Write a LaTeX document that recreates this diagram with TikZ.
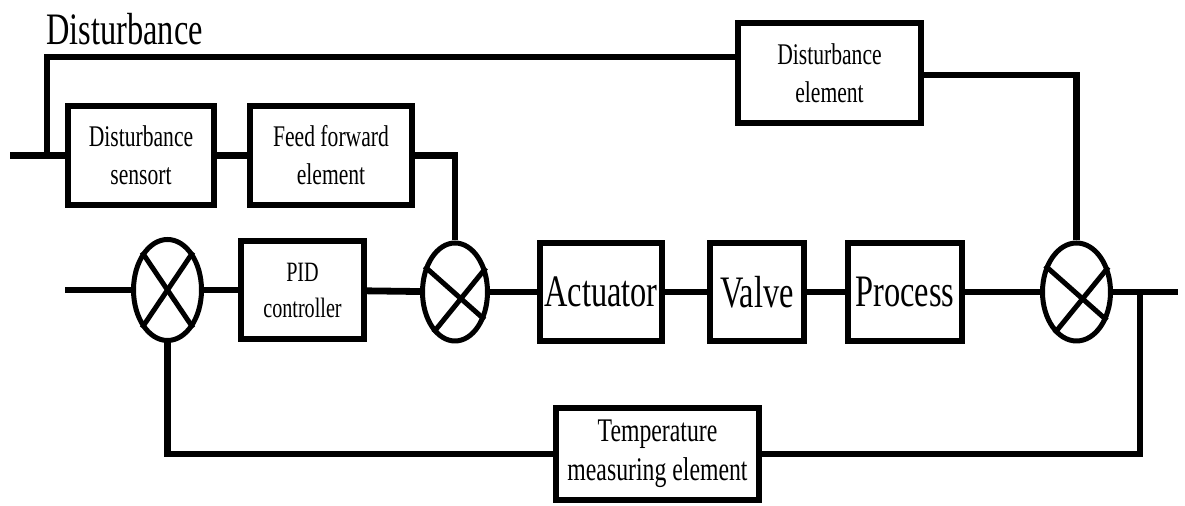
\documentclass[tikz,border=0pt]{standalone}
\usepackage{fontspec}
\setmainfont{Liberation Serif}[FakeStretch=0.72]
\usetikzlibrary{shapes.geometric}

\def\px{0.5pt}  % one unit of the grid
\begin{document}
\begin{tikzpicture}[
  x=\px, y=-\px,
  blk/.style={draw=black, line width=3pt, rectangle, fill=white,
              inner sep=0pt, align=center, anchor=center},
  small/.style={blk, font=\fontsize{15}{19}\selectfont},
  big/.style={blk, font=\fontsize{22.5}{26}\selectfont},
  sum/.style={draw=black, line width=2.5pt, ellipse, inner sep=0pt},
  wire/.style={line width=3.4pt},
  xline/.style={line width=2.5pt},
  lbl/.style={font=\fontsize{22.5}{26}\selectfont, inner sep=0pt},
]
\useasboundingbox (0,0) rectangle (1185,506);
% Label
\node[lbl, anchor=base west] (dlab) at (46,45) {Disturbance};
% Feed-forward branch
\node[small, minimum width=146*\px, minimum height=99*\px] (sens) at (141,155.5) {Disturbance\\sensort};
\node[small, minimum width=162*\px, minimum height=99*\px] (ffwd) at (331,155.5) {Feed forward\\element};
\node[small, minimum width=183*\px, minimum height=100*\px] (dist) at (829.5,73) {Disturbance\\element};
% Main loop
\node[sum, minimum width=68*\px, minimum height=101*\px] (s1) at (167.5,290) {};
\node[blk, font=\fontsize{14}{18}\selectfont,
      minimum width=123*\px, minimum height=98*\px] (pid) at (302.5,290) {PID\\controller};
\node[sum, minimum width=65*\px, minimum height=98*\px] (s2) at (455,292) {};
\node[big, minimum width=122*\px, minimum height=98*\px] (act) at (601,292) {Actuator};
\node[big, minimum width=94*\px, minimum height=98*\px] (valve) at (757,292) {Valve};
\node[big, minimum width=114*\px, minimum height=98*\px] (proc) at (905,292) {Process};
\node[sum, minimum width=68*\px, minimum height=98*\px] (s3) at (1076.5,292) {};
% Feedback
\node[blk, font=\fontsize{16.5}{19.5}\selectfont,
      minimum width=203*\px, minimum height=92*\px] (temp) at (657.5,454) {Temperature\\measuring element};
% Free ends
\coordinate (in1) at (10,155.5);
\coordinate (tap1) at (47,155.5);
\coordinate (dtop) at (47,57);
\coordinate (in2) at (65,290);
\coordinate (out) at (1178,292);
\coordinate (tap2) at (1140,292);
% Crosses in the summing points
\draw[xline] (s1.56) -- (s1.236);
\draw[xline] (s1.124) -- (s1.304);
\foreach \s in {s2, s3} {
  \draw[xline] (\s.140) -- (\s.-43);
  \draw[xline] (\s.38) -- (\s.242);
}
% Connectors
\draw[wire] (in1) -- (sens.west);
\draw[wire] (tap1) -- (dtop) -- (dtop -| dist.west);
\draw[wire] (sens) -- (ffwd);
\draw[wire] (ffwd.east) -| (s2.north);
\draw[wire] ([yshift=-1pt]dist.east) -| (s3.north);
\draw[wire] (in2) -- (s1);
\draw[wire] (s1) -- (pid);
\draw[wire] (pid) -- (s2);
\draw[wire] (s2) -- (act);
\draw[wire] (act) -- (valve);
\draw[wire] (valve) -- (proc);
\draw[wire] (proc) -- (s3);
\draw[wire] (s3) -- (out);
\draw[wire] (tap2) |- (temp.east);
\draw[wire] (temp.west) -| (s1.south);
\end{tikzpicture}
\end{document}
